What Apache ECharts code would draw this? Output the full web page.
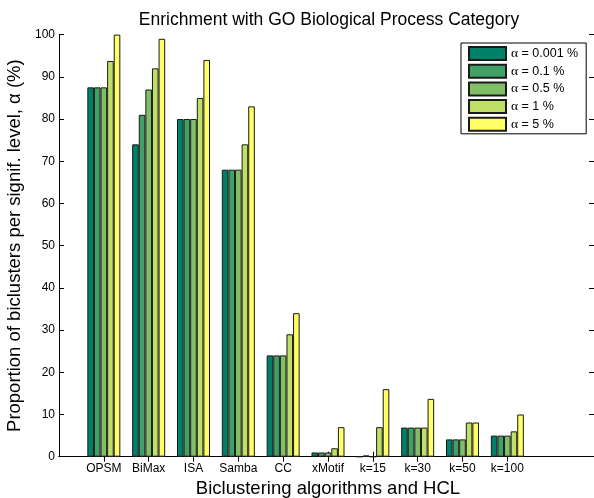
<!DOCTYPE html>
<html>
<head>
<meta charset="utf-8">
<script src="https://cdn.jsdelivr.net/npm/echarts@6/dist/echarts.min.js"></script>
<style>
html,body{margin:0;padding:0;background:#fff;}
#chart{width:594px;height:498px;}
</style>
</head>
<body>
<div id="chart"></div>
<script>
const categories = ['OPSM','BiMax','ISA','Samba','CC','xMotif','k=15','k=30','k=50','k=100'];
const seriesNames = ['\u03b1 = 0.001 %','\u03b1 = 0.1 %','\u03b1 = 0.5 %','\u03b1 = 1 %','\u03b1 = 5 %'];
const alpha0001 = [87.5, 74, 80, 68, 24, 1, 0, 6.9, 4.1, 5];
const alpha01   = [87.5, 81, 80, 68, 24, 1, 0.3, 6.9, 4.1, 5];
const alpha05   = [87.5, 87, 80, 68, 24, 1, 0, 6.9, 4.1, 5];
const alpha1    = [93.75, 92, 85, 74, 29, 2, 7, 6.9, 8.1, 6];
const alpha5    = [100, 99, 94, 83, 34, 7, 16, 13.7, 8.1, 10];
const yTicks = [0,10,20,30,40,50,60,70,80,90,100];
const colors = ['#008066','#40A066','#80BF66','#BFDF66','#FFFF66'];

const axisCats = [''].concat(categories, ['', '']);
const padData = v => [null].concat(v, [null, null]);
const allValues = [alpha0001, alpha01, alpha05, alpha1, alpha5];

const chart = echarts.init(document.getElementById('chart'), null, {renderer: 'canvas'});
const font = 'Liberation Sans, Arial, Helvetica, sans-serif';
const tickShow = (i) => i >= 1 && i <= categories.length;

const option = {
  animation: false,
  backgroundColor: '#fff',
  textStyle: {fontFamily: font},
  title: {
    text: 'Enrichment with GO Biological Process Category',
    left: 324, top: 6, textAlign: 'center',
    textStyle: {fontFamily: font, fontSize: 17.5, fontWeight: 'normal', color: '#000'}
  },
  grid: {left: 59, top: 34.6, right: -3, bottom: 41.3, containLabel: false, outerBoundsMode: 'none'},
  legend: {
    orient: 'vertical', left: 461, top: 43, icon: 'rect',
    padding: [3, 8, 2, 7], itemGap: 2.7, itemWidth: 37, itemHeight: 13,
    backgroundColor: '#fff', borderColor: '#000', borderWidth: 1, borderRadius: 0,
    data: seriesNames,
    formatter: n => '{a|\u03b1}{b|' + n.slice(1) + '}',
    textStyle: {fontFamily: font, fontSize: 12.5, color: '#000',
      rich: {
        a: {fontFamily: 'Liberation Serif, DejaVu Serif, serif', fontSize: 13.5, color: '#000'},
        b: {fontFamily: font, fontSize: 12.5, color: '#000'}
      }}
  },
  xAxis: [{
    type: 'category', data: axisCats, boundaryGap: false, position: 'bottom',
    name: 'Biclustering algorithms and HCL', nameLocation: 'middle', nameGap: 19,
    nameTextStyle: {fontFamily: font, fontSize: 18.5, color: '#000'},
    axisLine: {show: true, lineStyle: {color: '#000', width: 1}},
    axisTick: {show: true, inside: true, length: 5, interval: tickShow, lineStyle: {color: '#000'}},
    axisLabel: {interval: 0, margin: 6, fontFamily: font, fontSize: 12, color: '#000'},
    splitLine: {show: false}
  }, {
    type: 'category', data: axisCats, boundaryGap: false, position: 'top',
    axisLine: {show: true, lineStyle: {color: '#000', width: 1}},
    axisTick: {show: true, inside: true, length: 5, interval: tickShow, lineStyle: {color: '#000'}},
    axisLabel: {show: false}, splitLine: {show: false}
  }],
  yAxis: [{
    type: 'value', min: yTicks[0], max: yTicks[yTicks.length-1], interval: 10,
    name: 'Proportion of biclusters per signif. level, \u03b1 (%)', nameLocation: 'middle', nameGap: 33,
    nameTextStyle: {fontFamily: font, fontSize: 18.5, color: '#000'},
    axisLine: {show: true, lineStyle: {color: '#000', width: 1}},
    axisTick: {show: true, inside: true, length: 5, lineStyle: {color: '#000'}},
    axisLabel: {margin: 4, fontFamily: font, fontSize: 12, color: '#000'},
    splitLine: {show: false}
  }, {
    type: 'value', min: yTicks[0], max: yTicks[yTicks.length-1], interval: 10, position: 'right',
    axisLine: {show: true, lineStyle: {color: '#000', width: 1}},
    axisTick: {show: true, inside: true, length: 8, lineStyle: {color: '#000'}},
    axisLabel: {show: false}, splitLine: {show: false}
  }],
  series: allValues.map((vals, k) => ({
    name: seriesNames[k], type: 'bar', xAxisIndex: 0, yAxisIndex: 0,
    data: padData(vals), barWidth: 6.6, barGap: '0%',
    itemStyle: {color: colors[k], borderColor: '#1a1a1a', borderWidth: 1}
  }))
};
chart.setOption(option);
</script>
</body>
</html>
